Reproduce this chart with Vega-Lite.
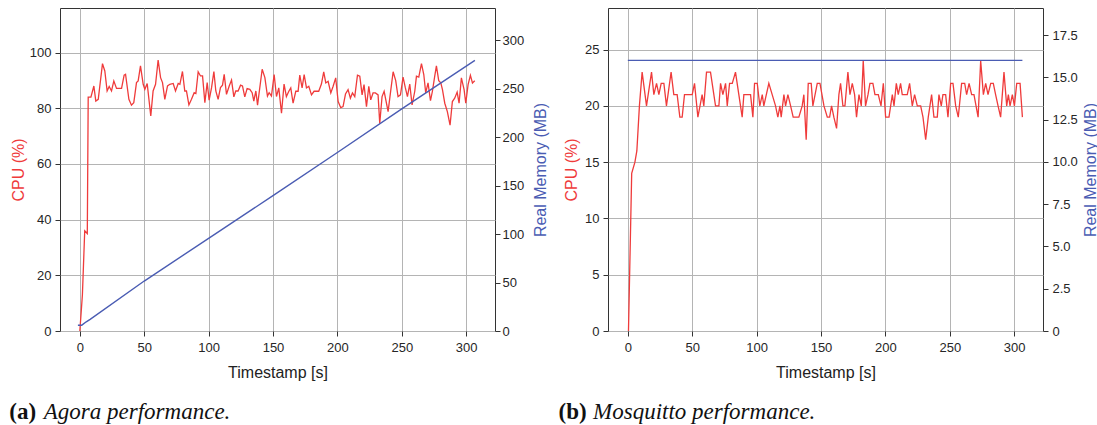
{
  "$schema": "https://vega.github.io/schema/vega-lite/v6.json",
  "background": "white",
  "padding": {"left": 8, "top": 7, "right": 3, "bottom": 2},
  "spacing": 8,
  "config": {
    "view": {"stroke": "#333333", "strokeWidth": 1},
    "font": "Liberation Sans",
    "axis": {
      "labelFont": "Liberation Sans", "labelFontSize": 13, "labelColor": "#262626", "labelPadding": 3,
      "titleFont": "Liberation Sans", "titleFontSize": 16, "titleFontWeight": "normal", "titleColor": "#222222",
      "tickColor": "#333333", "tickSize": 5, "domain": false,
      "gridColor": "#b4b4b4", "gridWidth": 1, "gridOpacity": 1
    }
  },
  "datasets": {
    "agoraCpu": [
      {"t":0,"v":0},{"t":2,"v":13},{"t":3.8,"v":36},{"t":5.8,"v":35},{"t":6.5,"v":84},{"t":8.6,"v":84},{"t":10.9,"v":88},{"t":12.4,"v":82.6},{"t":14.3,"v":83.2},{"t":17.6,"v":96},{"t":19.4,"v":93.4},{"t":21.2,"v":86.2},{"t":22.8,"v":87.8},{"t":24.6,"v":86.2},{"t":26.4,"v":89.8},{"t":28.5,"v":87.1},{"t":32.4,"v":87.1},{"t":34.4,"v":91.9},{"t":35.5,"v":92.2},{"t":38.1,"v":83.2},{"t":40.1,"v":81.1},{"t":41.9,"v":82},{"t":44,"v":89.2},{"t":45.3,"v":89.8},{"t":47.1,"v":95.2},{"t":49.2,"v":88.6},{"t":50.5,"v":86.8},{"t":52.3,"v":88.9},{"t":55.1,"v":77.2},{"t":56.9,"v":86.2},{"t":58.8,"v":88.6},{"t":60.8,"v":97.3},{"t":62.7,"v":91},{"t":64.2,"v":89.2},{"t":66,"v":83.2},{"t":68.1,"v":88},{"t":69.9,"v":88.6},{"t":72.5,"v":88.9},{"t":74.3,"v":86.2},{"t":76.4,"v":88.9},{"t":77.7,"v":88.6},{"t":79.7,"v":93.2},{"t":81.5,"v":86.2},{"t":82.8,"v":86.2},{"t":84.7,"v":81.2},{"t":86.7,"v":83.2},{"t":88.8,"v":85.6},{"t":90.1,"v":85.3},{"t":91.9,"v":93.1},{"t":93.7,"v":91.6},{"t":95.3,"v":91.6},{"t":97.1,"v":82},{"t":98.9,"v":89.2},{"t":100.4,"v":82.9},{"t":102.3,"v":87.4},{"t":104.1,"v":93.2},{"t":105.6,"v":86.2},{"t":107.4,"v":83.2},{"t":109.2,"v":87.4},{"t":110.8,"v":88.3},{"t":112.1,"v":92.2},{"t":113.9,"v":85},{"t":116,"v":88},{"t":117.8,"v":90.1},{"t":119.6,"v":84.1},{"t":121.1,"v":86.2},{"t":122.9,"v":86.2},{"t":124.8,"v":88.3},{"t":126.3,"v":88},{"t":128.1,"v":84.1},{"t":129.9,"v":87.1},{"t":132,"v":86.8},{"t":133.8,"v":85.6},{"t":135.1,"v":82.6},{"t":136.7,"v":86.2},{"t":138,"v":81.1},{"t":141.6,"v":94},{"t":143.7,"v":91},{"t":145.7,"v":84.4},{"t":147,"v":85.6},{"t":148.8,"v":84.4},{"t":150.9,"v":92.1},{"t":152.7,"v":84.2},{"t":154.5,"v":87.3},{"t":156.6,"v":78.2},{"t":158.6,"v":88.7},{"t":160.4,"v":84.2},{"t":162.3,"v":86.1},{"t":163.8,"v":87.3},{"t":165.6,"v":81.8},{"t":167.7,"v":86.1},{"t":169.5,"v":86.1},{"t":170.8,"v":91.9},{"t":172.6,"v":87.3},{"t":174.2,"v":92.1},{"t":176,"v":87.3},{"t":177.8,"v":87.9},{"t":179.9,"v":84.8},{"t":181.9,"v":86.1},{"t":185.5,"v":86.1},{"t":187.6,"v":88.7},{"t":189.4,"v":93.1},{"t":191,"v":89.1},{"t":192.8,"v":89.7},{"t":194.9,"v":85.5},{"t":196.7,"v":87.9},{"t":198.7,"v":90.9},{"t":200.6,"v":82.4},{"t":202.6,"v":80.2},{"t":204.4,"v":80.6},{"t":206.3,"v":85.1},{"t":208.3,"v":86.7},{"t":210.1,"v":83.6},{"t":211.7,"v":85.5},{"t":213.5,"v":84.2},{"t":215.6,"v":91.9},{"t":217.4,"v":91.5},{"t":219.2,"v":84.8},{"t":220.7,"v":88.5},{"t":222.6,"v":80.6},{"t":224.4,"v":87.9},{"t":225.9,"v":83},{"t":227.7,"v":85.5},{"t":229.5,"v":85.5},{"t":231.6,"v":84.8},{"t":232.9,"v":74.5},{"t":234.7,"v":84.2},{"t":236.3,"v":86.1},{"t":239.4,"v":78.8},{"t":241.2,"v":85.5},{"t":243.3,"v":93.1},{"t":245.3,"v":89.9},{"t":247.1,"v":84.2},{"t":249,"v":84.8},{"t":251,"v":91.2},{"t":252.8,"v":87.3},{"t":254.4,"v":84.2},{"t":256.2,"v":88.7},{"t":258,"v":81.2},{"t":260.1,"v":86.1},{"t":261.4,"v":91.5},{"t":263.2,"v":91.2},{"t":265.3,"v":96},{"t":267.1,"v":92.1},{"t":268.6,"v":85.5},{"t":270.4,"v":89.1},{"t":272.3,"v":82.7},{"t":273.8,"v":86.1},{"t":275.6,"v":91.5},{"t":276.9,"v":95.2},{"t":278.7,"v":89.9},{"t":280.3,"v":89.1},{"t":281.6,"v":86.7},{"t":283.4,"v":81.8},{"t":285.4,"v":78.8},{"t":287.5,"v":73.9},{"t":289.3,"v":82.4},{"t":291.1,"v":83.6},{"t":293,"v":85.8},{"t":294.5,"v":81.8},{"t":296.3,"v":90.9},{"t":298.4,"v":86.7},{"t":299.7,"v":81.8},{"t":301.5,"v":88.5},{"t":303.3,"v":91.8},{"t":304.9,"v":89.1},{"t":306.7,"v":89.9}
    ],
    "agoraMem": [
      {"t":-1.5,"v":6},{"t":1.5,"v":6},{"t":5,"v":9.5},{"t":8,"v":12},{"t":50,"v":51.5},{"t":100,"v":95.5},{"t":150,"v":139.5},{"t":200,"v":184},{"t":250,"v":229},{"t":306.8,"v":279}
    ],
    "mosqCpu": [
      {"t":0.5,"v":0},{"t":3,"v":14},{"t":5.5,"v":15},{"t":7,"v":16},{"t":9,"v":20},{"t":11.1,"v":23},{"t":14.5,"v":20},{"t":18.4,"v":23},{"t":20.2,"v":21},{"t":22.3,"v":22},{"t":24.1,"v":21},{"t":25.9,"v":22},{"t":28,"v":22},{"t":30,"v":20},{"t":33.6,"v":23},{"t":35.7,"v":21},{"t":38.3,"v":21},{"t":40.4,"v":19},{"t":42.2,"v":19},{"t":44,"v":21},{"t":47.4,"v":21},{"t":50,"v":21},{"t":51.8,"v":22},{"t":54.4,"v":19},{"t":57.7,"v":21},{"t":59,"v":20},{"t":61.1,"v":23},{"t":64.2,"v":23},{"t":68.1,"v":20},{"t":70.7,"v":20},{"t":72,"v":22},{"t":73.8,"v":21},{"t":75.9,"v":22},{"t":77.2,"v":20},{"t":79,"v":22},{"t":81.1,"v":22},{"t":83.6,"v":23},{"t":86.2,"v":21},{"t":88.8,"v":19},{"t":90.1,"v":21},{"t":95.3,"v":21},{"t":97.1,"v":19},{"t":98.4,"v":22},{"t":100.5,"v":22},{"t":102.5,"v":20},{"t":104.4,"v":21},{"t":105.6,"v":20},{"t":109.5,"v":22},{"t":112.1,"v":21},{"t":114.7,"v":20},{"t":116.5,"v":19},{"t":118.1,"v":20},{"t":119.1,"v":19},{"t":121.2,"v":21},{"t":122.5,"v":20},{"t":124.3,"v":21},{"t":126.4,"v":20},{"t":128.4,"v":19},{"t":132.8,"v":19},{"t":135.4,"v":20},{"t":136.7,"v":21},{"t":138.5,"v":17},{"t":140.1,"v":22},{"t":142.4,"v":22},{"t":143.7,"v":20},{"t":147.1,"v":22},{"t":149.2,"v":22},{"t":152.3,"v":20},{"t":154.9,"v":19},{"t":156.7,"v":19},{"t":158.2,"v":20},{"t":160,"v":19},{"t":162.1,"v":18},{"t":163.9,"v":21},{"t":165.2,"v":22},{"t":167,"v":20},{"t":168.6,"v":20},{"t":170.9,"v":23},{"t":172.5,"v":21},{"t":174.3,"v":22},{"t":176.1,"v":21},{"t":177.6,"v":19},{"t":179.5,"v":21},{"t":181.3,"v":20},{"t":182.8,"v":24},{"t":184.6,"v":20},{"t":186.5,"v":21},{"t":188,"v":22},{"t":190.3,"v":22},{"t":191.9,"v":21},{"t":194.5,"v":21},{"t":196.6,"v":20},{"t":198.4,"v":22},{"t":200.2,"v":19},{"t":202.8,"v":19},{"t":205.4,"v":21},{"t":206.7,"v":20},{"t":208.5,"v":22},{"t":210,"v":21},{"t":211.8,"v":22},{"t":213.1,"v":21},{"t":217,"v":21},{"t":218.8,"v":22},{"t":220.9,"v":20},{"t":222.7,"v":21},{"t":224.8,"v":20},{"t":227.4,"v":20},{"t":229.2,"v":19},{"t":231.3,"v":17},{"t":233.3,"v":19},{"t":235.9,"v":21},{"t":237.7,"v":19},{"t":240.3,"v":19},{"t":241.6,"v":21},{"t":243.4,"v":20},{"t":244.7,"v":21},{"t":246.8,"v":21},{"t":248.6,"v":19},{"t":250.7,"v":22},{"t":252.5,"v":22},{"t":254.6,"v":20},{"t":256.6,"v":19},{"t":259.2,"v":22},{"t":261.6,"v":22},{"t":263.1,"v":21},{"t":265,"v":22},{"t":267,"v":21},{"t":268.8,"v":21},{"t":272,"v":19},{"t":274,"v":24},{"t":276.1,"v":21},{"t":277.9,"v":22},{"t":279.7,"v":21},{"t":281.8,"v":22},{"t":283.8,"v":22},{"t":285.6,"v":21},{"t":287.5,"v":20},{"t":289.5,"v":19},{"t":292.1,"v":23},{"t":294.2,"v":20},{"t":295.5,"v":21},{"t":296.8,"v":20},{"t":298.6,"v":21},{"t":300.2,"v":20},{"t":302,"v":22},{"t":304.6,"v":22},{"t":306.4,"v":19}
    ],
    "mosqMem": [
      {"t":0,"v":16},{"t":306.4,"v":16}
    ]
  },
  "hconcat": [
    {
      "width": 435, "height": 323,
      "title": {
        "text": "(a)", "subtitle": "\u200b\u00a0\u00a0\u00a0\u00a0\u00a0\u00a0Agora performance.",
        "orient": "bottom", "anchor": "start", "frame": "bounds", "offset": 21, "dx": -1,
        "font": "Liberation Serif", "fontSize": 23, "fontWeight": "bold", "color": "#111111",
        "subtitleFont": "Liberation Serif", "subtitleFontSize": 23, "subtitleFontStyle": "italic", "subtitleColor": "#111111",
        "subtitlePadding": -23
      },
      "layer": [
        {
          "data": {"name": "agoraCpu"},
          "mark": {"type": "line", "color": "#ef3b3b", "strokeWidth": 1.3},
          "encoding": {
            "x": {"field": "t", "type": "quantitative", "scale": {"domain": [-15.4, 322.4], "nice": false, "zero": false},
                  "axis": {"title": "Timestamp [s]", "values": [0, 50, 100, 150, 200, 250, 300], "grid": true, "labelPadding": 5, "titlePadding": 10}},
            "y": {"field": "v", "type": "quantitative", "scale": {"domain": [0, 116], "nice": false},
                  "axis": {"orient": "left", "title": "CPU (%)", "titleColor": "#ef3b3b", "values": [0, 20, 40, 60, 80, 100], "grid": true, "labelPadding": 4, "titlePadding": 3}}
          }
        },
        {
          "data": {"name": "agoraMem"},
          "mark": {"type": "line", "color": "#4a5cb3", "strokeWidth": 1.4},
          "encoding": {
            "x": {"field": "t", "type": "quantitative"},
            "y": {"field": "v", "type": "quantitative", "scale": {"domain": [0, 333], "nice": false},
                  "axis": {"orient": "right", "title": "Real Memory (MB)", "titleColor": "#4a5cb3", "titleAngle": 270, "titleBaseline": "top", "values": [0, 50, 100, 150, 200, 250, 300], "grid": false, "labelPadding": 2, "titlePadding": 9}}
          }
        }
      ],
      "resolve": {"scale": {"y": "independent"}}
    },
    {
      "width": 435, "height": 323,
      "title": {
        "text": "(b)", "subtitle": "\u200b\u00a0\u00a0\u00a0\u00a0\u00a0\u00a0Mosquitto performance.",
        "orient": "bottom", "anchor": "start", "frame": "bounds", "offset": 21, "dx": -5,
        "font": "Liberation Serif", "fontSize": 23, "fontWeight": "bold", "color": "#111111",
        "subtitleFont": "Liberation Serif", "subtitleFontSize": 23, "subtitleFontStyle": "italic", "subtitleColor": "#111111",
        "subtitlePadding": -23
      },
      "layer": [
        {
          "data": {"name": "mosqCpu"},
          "mark": {"type": "line", "color": "#ef3b3b", "strokeWidth": 1.3},
          "encoding": {
            "x": {"field": "t", "type": "quantitative", "scale": {"domain": [-15.4, 322.4], "nice": false, "zero": false},
                  "axis": {"title": "Timestamp [s]", "values": [0, 50, 100, 150, 200, 250, 300], "grid": true, "labelPadding": 5, "titlePadding": 10}},
            "y": {"field": "v", "type": "quantitative", "scale": {"domain": [0, 28.7], "nice": false},
                  "axis": {"orient": "left", "title": "CPU (%)", "titleColor": "#ef3b3b", "values": [0, 5, 10, 15, 20, 25], "grid": true, "labelPadding": 4, "titlePadding": 5}}
          }
        },
        {
          "data": {"name": "mosqMem"},
          "mark": {"type": "line", "color": "#4a5cb3", "strokeWidth": 1.4},
          "encoding": {
            "x": {"field": "t", "type": "quantitative"},
            "y": {"field": "v", "type": "quantitative", "scale": {"domain": [0, 19.1], "nice": false},
                  "axis": {"orient": "right", "title": "Real Memory (MB)", "titleColor": "#4a5cb3", "titleAngle": 270, "titleBaseline": "top", "values": [0, 2.5, 5, 7.5, 10, 12.5, 15, 17.5], "labelExpr": "datum.value == 0 ? '0' : format(datum.value, '.1f')", "grid": false, "labelPadding": 4, "titlePadding": 5}}
          }
        }
      ],
      "resolve": {"scale": {"y": "independent"}}
    }
  ]
}
